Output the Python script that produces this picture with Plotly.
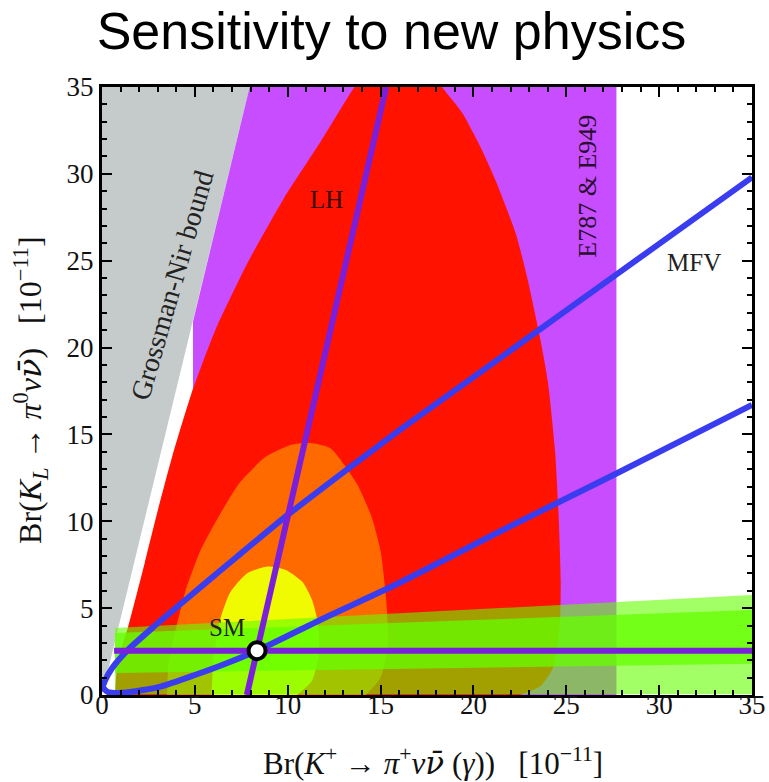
import plotly.graph_objects as go

# ---------------- data ----------------
# Grossman-Nir excluded wedge (left of the bound)
gn_x = [0.0, 7.95, 0.0]
gn_y = [0.0, 35.0, 35.0]

# E787 & E949 allowed band (purple)
e949_x = [4.9, 27.7, 27.7, 7.95, 4.9]
e949_y = [0.0, 0.0, 35.0, 35.0, 21.5]

# LH region (red)
lh_x = [0.7, 0.85, 1.4, 2.3, 3.0, 3.8, 4.8, 6.1, 7.8, 9.8, 11.8, 13.6, 14.6, 16.2,
        17.4, 18.3, 19.4, 20.4, 21.2, 22.3, 22.9, 23.6, 24.0, 24.4, 24.6, 24.7,
        24.65, 24.3, 23.6, 22.5]
lh_y = [0.0, 2.0, 3.9, 7.6, 10.6, 13.8, 17.3, 21.0, 24.8, 28.6, 31.9, 35.0, 36.3, 36.9,
        36.3, 35.0, 33.5, 31.5, 29.6, 26.5, 24.0, 20.5, 18.1, 14.0, 10.0, 6.6,
        4.0, 1.6, 0.5, 0.0]

# orange region
or_x = [3.5, 3.6, 4.0, 4.5, 5.3, 6.3, 7.4, 8.8, 10.2, 11.2, 12.3, 13.7, 14.5,
        15.0, 15.3, 15.4, 15.0, 14.2]
or_y = [0.0, 2.0, 3.9, 6.0, 8.3, 10.3, 12.2, 13.7, 14.4, 14.5, 14.2, 12.2, 10.3,
        8.3, 5.5, 3.0, 1.0, 0.0]

# yellow region
ye_x = [5.9, 6.0, 6.35, 6.9, 7.8, 8.9, 9.9, 10.8, 11.3, 11.6, 11.7, 11.3, 10.5]
ye_y = [0.0, 2.0, 4.3, 5.9, 7.0, 7.4, 7.2, 6.5, 5.5, 4.3, 2.5, 0.8, 0.0]

# K_L bands (green)
band_out_x = [0.7, 35.0, 35.0, 0.7]
band_out_y = [0.05, 0.05, 5.75, 3.86]
band_in_x = [0.7, 35.0, 35.0, 0.7]
band_in_y = [1.27, 1.8, 4.9, 3.57]

# MFV curve (blue), lower branch from right to the nose, then upper branch
mfv_x = [35.0, 27.7, 21.4, 16.0, 12.0, 8.35, 6.4, 5.0, 3.2, 1.8, 0.9, 0.3, 0.06,
         0.15, 0.55, 1.4, 2.7, 4.1, 5.5, 7.3, 10.1, 13.4, 16.0, 20.0, 25.0, 30.0, 35.0]
mfv_y = [16.7, 12.75, 9.4, 6.45, 4.45, 2.55, 1.7, 1.15, 0.5, 0.22, 0.12, 0.18, 0.45,
         0.8, 1.56, 2.6, 3.85, 5.12, 6.38, 7.99, 10.45, 13.15, 15.23, 18.3, 22.14, 25.97, 29.8]

# purple lines
hline_x = [0.65, 35.0]
hline_y = [2.55, 2.55]
steep_x = [7.8, 15.3]
steep_y = [0.0, 35.0]

# SM point
sm_x = [8.35]
sm_y = [2.55]

tick_vals = [0, 5, 10, 15, 20, 25, 30, 35]
tick_text = ["0", "5", "10", "15", "20", "25", "30", "35"]

# ---------------- figure ----------------
fig = go.Figure()

def area(x, y, color, smooth=True):
    fig.add_trace(go.Scatter(x=x, y=y, mode="lines", fill="toself",
                             fillcolor=color,
                             line=dict(width=0, shape="spline" if smooth else "linear",
                                       smoothing=0.6),
                             hoverinfo="skip", showlegend=False))

area(gn_x, gn_y, "#c5cbcb", smooth=False)
area(e949_x, e949_y, "#c84dff", smooth=False)
area(lh_x, lh_y, "#ff1200")
area(or_x, or_y, "#ff6a00")
area(ye_x, ye_y, "#f0fa00")
area(band_out_x, band_out_y, "rgba(100,255,0,0.6)", smooth=False)
area(band_in_x, band_in_y, "rgba(100,255,0,0.75)", smooth=False)

fig.add_trace(go.Scatter(x=mfv_x, y=mfv_y, mode="lines",
                         line=dict(color="#3a3cf0", width=6, shape="spline", smoothing=0.6),
                         hoverinfo="skip", showlegend=False))
fig.add_trace(go.Scatter(x=hline_x, y=hline_y, mode="lines",
                         line=dict(color="#7a1fdc", width=6),
                         hoverinfo="skip", showlegend=False))
fig.add_trace(go.Scatter(x=steep_x, y=steep_y, mode="lines",
                         line=dict(color="#7a1fdc", width=6),
                         hoverinfo="skip", showlegend=False))
fig.add_trace(go.Scatter(x=sm_x, y=sm_y, mode="markers",
                         marker=dict(size=17, color="white",
                                     line=dict(color="black", width=4)),
                         hoverinfo="skip", showlegend=False))

serif = "Liberation Serif, Times New Roman, serif"

ann = [
    dict(x=3.75, y=23.6, text="Grossman-Nir bound", textangle=-74,
         font=dict(family=serif, size=28, color="#222")),
    dict(x=12.1, y=28.5, text="LH", font=dict(family=serif, size=25, color="#3a0000")),
    dict(x=26.1, y=29.3, text="E787 &amp; E949", textangle=-90,
         font=dict(family=serif, size=26, color="#2a1030")),
    dict(x=31.9, y=24.9, text="MFV", font=dict(family=serif, size=25, color="#222")),
    dict(x=6.75, y=3.9, text="SM", font=dict(family=serif, size=25, color="#222")),
]
for a in ann:
    a.update(xref="x", yref="y", showarrow=False, xanchor="center", yanchor="middle")
    fig.add_annotation(**a)

nb = "\u00a0"
nubar = "<span style=\"font-family:DejaVu Serif\"><i>ν̄</i></span>"
fig.add_annotation(xref="paper", yref="paper", x=0.509, y=-0.1086, showarrow=False,
                   xanchor="center", yanchor="middle",
                   text="Br(<i>K</i><sup>+</sup> → <i>π</i><sup>+</sup><i>ν</i>" + nubar + nb +
                        "(<i>γ</i>))" + nb * 3 + "[10<sup>−11</sup>]",
                   font=dict(family=serif, size=31, color="#111"))
fig.add_annotation(xref="paper", yref="paper", x=-0.111, y=0.5016, showarrow=False,
                   xanchor="center", yanchor="middle", textangle=-90,
                   text="Br(<i>K</i><sub><i>L</i></sub> → <i>π</i><sup>0</sup><i>ν</i>" + nubar + ")" +
                        nb * 3 + "[10<sup>−11</sup>]",
                   font=dict(family=serif, size=32, color="#111"))

axis_common = dict(range=[0, 35], tickvals=tick_vals, ticktext=tick_text,
                   ticks="inside", ticklen=10, tickwidth=2, tickcolor="black",
                   showline=True, linewidth=3, linecolor="black", mirror="ticks",
                   showgrid=False, zeroline=False, automargin=False,
                   minor=dict(dtick=1, ticks="inside", ticklen=5, tickwidth=1.5,
                              tickcolor="black", showgrid=False),
                   tickfont=dict(family=serif, size=27, color="#111"))

fig.update_layout(
    width=769, height=782,
    margin=dict(l=102, r=17, t=87, b=87),
    paper_bgcolor="white", plot_bgcolor="white",
    title=dict(text="Sensitivity to new physics", xref="container", x=0.509,
               xanchor="center", yref="container", y=0.96, yanchor="middle",
               font=dict(family="Liberation Sans, Arial, sans-serif", size=52, color="black")),
    xaxis=dict(axis_common, ticklabelstandoff=-16),
    yaxis=axis_common,
)

fig.write_html(
    "out.html",
    config={"displayModeBar": False},
    post_script=("document.documentElement.style.overflow='hidden';"
                 "document.body.style.overflow='hidden';"
                 "document.body.style.margin='0';"),
)
